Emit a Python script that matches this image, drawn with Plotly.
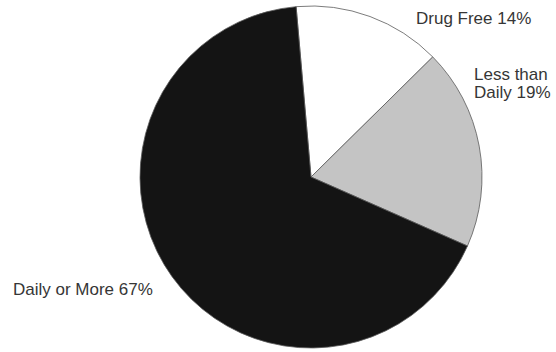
import plotly.graph_objects as go

# Share of respondents by frequency of drug use
categories = ["Drug Free", "Less than Daily", "Daily or More"]
shares = [14, 19, 67]
label_lines = [["Drug Free 14%"], ["Less than", "Daily 19%"], ["Daily or More 67%"]]

slice_colors = ["#ffffff", "#c4c4c4", "#141414"]

W, H = 556, 352
cx, cy, r = 311, 177, 171

fig = go.Figure(
    go.Pie(
        labels=categories,
        values=shares,
        sort=False,
        direction="clockwise",
        rotation=-5,
        textinfo="none",
        hoverinfo="label+percent",
        marker=dict(
            colors=slice_colors,
            line=dict(color="#5a5a5a", width=0.8),
        ),
        domain=dict(
            x=[(cx - r) / W, (cx + r) / W],
            y=[(H - cy - r) / H, (H - cy + r) / H],
        ),
        showlegend=False,
    )
)

# Outside labels, one annotation per text line for tight line spacing
label_font = dict(family="Liberation Sans, Arial, sans-serif", size=17, color="#363636")
positions = [[(414, 18)], [(472, 74), (472, 92)], [(11, 289)]]
for lines, pos in zip(label_lines, positions):
    for text, (px, py) in zip(lines, pos):
        fig.add_annotation(
            x=px / W, y=1 - py / H, xref="paper", yref="paper",
            text=text, showarrow=False, xanchor="left", yanchor="middle",
            font=label_font,
        )

fig.update_layout(
    width=W, height=H,
    margin=dict(l=0, r=0, t=0, b=0),
    paper_bgcolor="#ffffff",
    plot_bgcolor="#ffffff",
)

fig.write_html("out.html")
